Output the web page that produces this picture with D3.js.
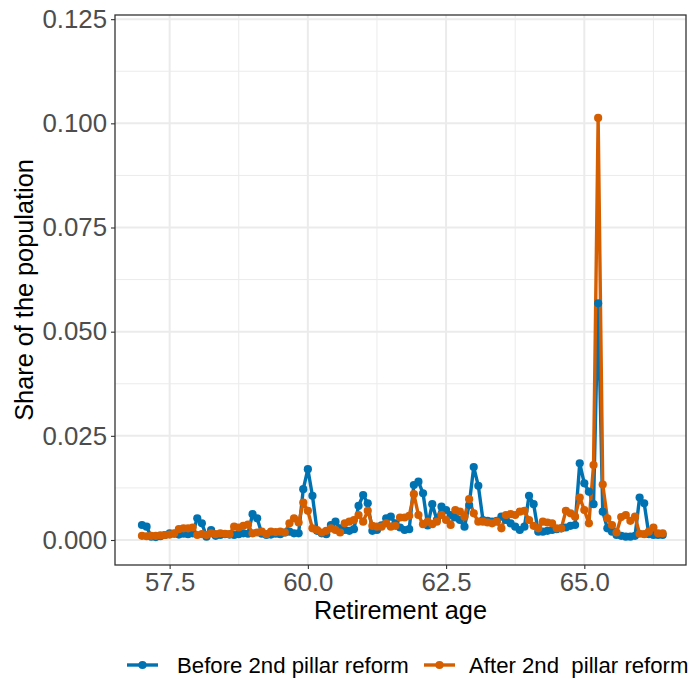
<!DOCTYPE html>
<html>
<head>
<meta charset="utf-8">
<script src="https://cdn.jsdelivr.net/npm/d3@7/dist/d3.min.js"></script>
<style>
  html, body { margin: 0; padding: 0; background: #ffffff; }
  svg { display: block; font-family: "Liberation Sans", Arial, sans-serif; }
</style>
</head>
<body>
<svg id="chart" width="691" height="679"></svg>
<script>
// Retirement age in years, one point per month from 57y0m to 66y5m
const ages = [
  57.000, 57.083, 57.167, 57.250, 57.333, 57.417, 57.500, 57.583, 57.667, 57.750, 57.833, 57.917,
  58.000, 58.083, 58.167, 58.250, 58.333, 58.417, 58.500, 58.583, 58.667, 58.750, 58.833, 58.917,
  59.000, 59.083, 59.167, 59.250, 59.333, 59.417, 59.500, 59.583, 59.667, 59.750, 59.833, 59.917,
  60.000, 60.083, 60.167, 60.250, 60.333, 60.417, 60.500, 60.583, 60.667, 60.750, 60.833, 60.917,
  61.000, 61.083, 61.167, 61.250, 61.333, 61.417, 61.500, 61.583, 61.667, 61.750, 61.833, 61.917,
  62.000, 62.083, 62.167, 62.250, 62.333, 62.417, 62.500, 62.583, 62.667, 62.750, 62.833, 62.917,
  63.000, 63.083, 63.167, 63.250, 63.333, 63.417, 63.500, 63.583, 63.667, 63.750, 63.833, 63.917,
  64.000, 64.083, 64.167, 64.250, 64.333, 64.417, 64.500, 64.583, 64.667, 64.750, 64.833, 64.917,
  65.000, 65.083, 65.167, 65.250, 65.333, 65.417, 65.500, 65.583, 65.667, 65.750, 65.833, 65.917,
  66.000, 66.083, 66.167, 66.250, 66.333, 66.417
];

// Share of the population retiring at each age, before the 2nd pillar reform
const shareBefore = [
  0.0036, 0.0032, 0.0008, 0.0007, 0.0009, 0.0012, 0.0016, 0.0015, 0.0013, 0.0015, 0.0014, 0.0016,
  0.0052, 0.0040, 0.0008, 0.0024, 0.0010, 0.0012, 0.0014, 0.0013, 0.0012, 0.0014, 0.0016, 0.0015,
  0.0062, 0.0052, 0.0015, 0.0012, 0.0013, 0.0015, 0.0014, 0.0018, 0.0020, 0.0016, 0.0016, 0.0122,
  0.0170, 0.0106, 0.0022, 0.0016, 0.0014, 0.0036, 0.0044, 0.0028, 0.0024, 0.0022, 0.0026, 0.0082,
  0.0108, 0.0088, 0.0022, 0.0024, 0.0035, 0.0052, 0.0056, 0.0040, 0.0030, 0.0024, 0.0026, 0.0132,
  0.0140, 0.0112, 0.0035, 0.0086, 0.0048, 0.0080, 0.0072, 0.0060, 0.0054, 0.0048, 0.0032, 0.0084,
  0.0175, 0.0130, 0.0048, 0.0046, 0.0044, 0.0046, 0.0056, 0.0048, 0.0040, 0.0032, 0.0024, 0.0032,
  0.0106, 0.0086, 0.0020, 0.0020, 0.0022, 0.0024, 0.0026, 0.0028, 0.0030, 0.0034, 0.0036, 0.0184,
  0.0136, 0.0116, 0.0086, 0.0568, 0.0068, 0.0028, 0.0020, 0.0012, 0.0010, 0.0008, 0.0008, 0.0010,
  0.0102, 0.0088, 0.0014, 0.0012, 0.0012, 0.0012
];

// Share of the population retiring at each age, after the 2nd pillar reform
const shareAfter = [
  0.0010, 0.0009, 0.0010, 0.0010, 0.0011, 0.0012, 0.0013, 0.0016, 0.0026, 0.0028, 0.0028, 0.0030,
  0.0012, 0.0014, 0.0012, 0.0016, 0.0014, 0.0016, 0.0015, 0.0014, 0.0032, 0.0030, 0.0034, 0.0037,
  0.0016, 0.0018, 0.0020, 0.0014, 0.0020, 0.0019, 0.0020, 0.0018, 0.0040, 0.0052, 0.0042, 0.0090,
  0.0070, 0.0028, 0.0024, 0.0018, 0.0022, 0.0028, 0.0024, 0.0018, 0.0040, 0.0044, 0.0048, 0.0060,
  0.0044, 0.0070, 0.0034, 0.0032, 0.0032, 0.0040, 0.0032, 0.0034, 0.0054, 0.0054, 0.0058, 0.0110,
  0.0060, 0.0038, 0.0044, 0.0038, 0.0044, 0.0060, 0.0048, 0.0036, 0.0072, 0.0068, 0.0056, 0.0098,
  0.0064, 0.0044, 0.0044, 0.0042, 0.0040, 0.0044, 0.0028, 0.0060, 0.0062, 0.0060, 0.0068, 0.0070,
  0.0048, 0.0034, 0.0028, 0.0044, 0.0042, 0.0040, 0.0028, 0.0028, 0.0070, 0.0064, 0.0056, 0.0102,
  0.0072, 0.0040, 0.0180, 0.1013, 0.0133, 0.0052, 0.0036, 0.0018, 0.0055, 0.0060, 0.0046, 0.0056,
  0.0015, 0.0014, 0.0020, 0.0030, 0.0016, 0.0016
];

const seriesNames = ["Before 2nd pillar reform", "After 2nd  pillar reform"];
const seriesColors = ["#0072B2", "#D55E00"];

const xMajorTicks = [57.5, 60.0, 62.5, 65.0];
const xMinorTicks = [58.75, 61.25, 63.75, 66.25];
const yMajorTicks = [0, 0.025, 0.05, 0.075, 0.1, 0.125];
const yMinorTicks = [0.0125, 0.0375, 0.0625, 0.0875, 0.1125];

const xTitle = "Retirement age";
const yTitle = "Share of the population";

// ---- layout ----
const panel = { left: 115, right: 686, top: 15, bottom: 565 };

const x = d3.scaleLinear().domain([56.512, 66.839]).range([panel.left, panel.right]);
const y = d3.scaleLinear().domain([-0.006, 0.126]).range([panel.bottom, panel.top]);

const svg = d3.select("#chart");

// panel background
svg.append("rect")
  .attr("x", panel.left).attr("y", panel.top)
  .attr("width", panel.right - panel.left).attr("height", panel.bottom - panel.top)
  .attr("fill", "#ffffff");

// grid lines
const grid = svg.append("g");
grid.selectAll(".xminor").data(xMinorTicks.filter(v => x(v) > panel.left && x(v) < panel.right)).join("line")
  .attr("x1", d => x(d)).attr("x2", d => x(d))
  .attr("y1", panel.top).attr("y2", panel.bottom)
  .attr("stroke", "#EBEBEB").attr("stroke-width", 1);
grid.selectAll(".yminor").data(yMinorTicks).join("line")
  .attr("x1", panel.left).attr("x2", panel.right)
  .attr("y1", d => y(d)).attr("y2", d => y(d))
  .attr("stroke", "#EBEBEB").attr("stroke-width", 1);
grid.selectAll(".xmajor").data(xMajorTicks).join("line")
  .attr("x1", d => x(d)).attr("x2", d => x(d))
  .attr("y1", panel.top).attr("y2", panel.bottom)
  .attr("stroke", "#EBEBEB").attr("stroke-width", 2);
grid.selectAll(".ymajor").data(yMajorTicks).join("line")
  .attr("x1", panel.left).attr("x2", panel.right)
  .attr("y1", d => y(d)).attr("y2", d => y(d))
  .attr("stroke", "#EBEBEB").attr("stroke-width", 2);

// series
const series = [shareBefore, shareAfter].map((vals, i) => ({
  name: seriesNames[i],
  color: seriesColors[i],
  points: ages.map((a, j) => ({ age: a, share: vals[j] }))
}));

const line = d3.line().x(d => x(d.age)).y(d => y(d.share));

const plot = svg.append("g");
series.forEach(s => {
  plot.append("path")
    .datum(s.points)
    .attr("fill", "none")
    .attr("stroke", s.color)
    .attr("stroke-width", 3.4)
    .attr("stroke-linejoin", "round")
    .attr("d", line);
});
series.forEach(s => {
  plot.append("g").selectAll("circle").data(s.points).join("circle")
    .attr("cx", d => x(d.age))
    .attr("cy", d => y(d.share))
    .attr("r", 4.1)
    .attr("fill", s.color);
});

// panel border
svg.append("rect")
  .attr("x", panel.left).attr("y", panel.top)
  .attr("width", panel.right - panel.left).attr("height", panel.bottom - panel.top)
  .attr("fill", "none").attr("stroke", "#333333").attr("stroke-width", 1.3);

// axes
const xAxis = svg.append("g")
  .attr("transform", `translate(0,${panel.bottom})`)
  .call(d3.axisBottom(x).tickValues(xMajorTicks).tickFormat(d3.format(".1f")).tickSize(4).tickPadding(4));
const yAxis = svg.append("g")
  .attr("transform", `translate(${panel.left},0)`)
  .call(d3.axisLeft(y).tickValues(yMajorTicks).tickFormat(d3.format(".3f")).tickSize(4).tickPadding(4));

[xAxis, yAxis].forEach(g => {
  g.select(".domain").remove();
  g.selectAll(".tick line").attr("stroke", "#333333").attr("stroke-width", 1.1);
  g.selectAll(".tick text")
    .attr("fill", "#4D4D4D")
    .style("font-size", "25.8px")
    .style("font-family", "'Liberation Sans', Arial, sans-serif");
});

// axis titles
svg.append("text")
  .attr("x", (panel.left + panel.right) / 2)
  .attr("y", 619)
  .attr("text-anchor", "middle")
  .attr("fill", "#000000")
  .style("font-size", "25.3px")
  .text(xTitle);

svg.append("text")
  .attr("transform", `translate(33,${(panel.top + panel.bottom) / 2}) rotate(-90)`)
  .attr("text-anchor", "middle")
  .attr("fill", "#000000")
  .style("font-size", "25.3px")
  .text(yTitle);

// legend
const legendY = 665;
const legendItems = [
  { x: 127, textX: 177 },
  { x: 424, textX: 469 }
];
const legend = svg.append("g");
series.forEach((s, i) => {
  const it = legendItems[i];
  legend.append("line")
    .attr("x1", it.x).attr("x2", it.x + 31)
    .attr("y1", legendY).attr("y2", legendY)
    .attr("stroke", s.color).attr("stroke-width", 3.4);
  legend.append("circle")
    .attr("cx", it.x + 15.5).attr("cy", legendY).attr("r", 4.1)
    .attr("fill", s.color);
  legend.append("text")
    .attr("x", it.textX).attr("y", legendY)
    .attr("dy", "0.35em")
    .attr("fill", "#000000")
    .style("font-size", "22.2px")
    .style("white-space", "pre")
    .text(s.name);
});
</script>
</body>
</html>
